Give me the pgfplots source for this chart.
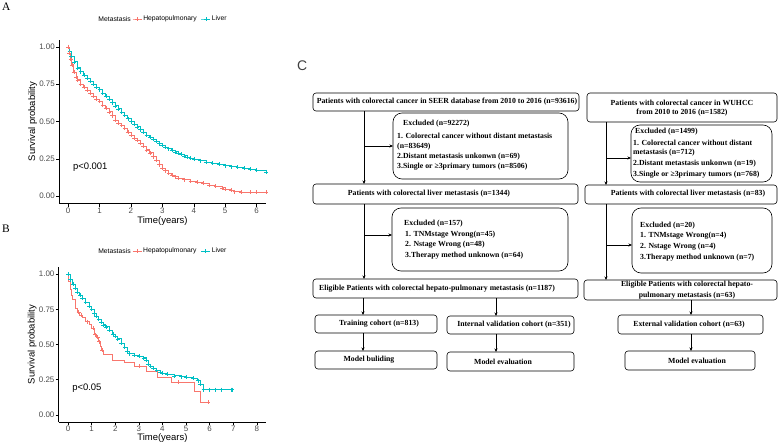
\documentclass[border=0pt]{standalone}
\usepackage{pgfplots}
\pgfplotsset{compat=1.18}
\usepackage{pgfplotstable}
\usepackage{fontspec}
\setmainfont{Liberation Serif}
\newfontfamily\arial{Liberation Sans}
\usetikzlibrary{arrows.meta}
\definecolor{hep}{HTML}{F8766D}
\definecolor{liv}{HTML}{00BFC4}

\pgfplotstableread{
t s
0 1.00
0.05 0.97
0.1 0.94
0.2 0.90
0.3 0.86
0.4 0.835
0.5 0.81
0.6 0.79
0.7 0.77
0.8 0.75
0.9 0.73
1.0 0.713
1.1 0.69
1.2 0.67
1.3 0.65
1.4 0.627
1.5 0.605
1.6 0.585
1.7 0.563
1.8 0.542
1.9 0.52
2.0 0.50
2.1 0.482
2.2 0.464
2.3 0.446
2.4 0.428
2.5 0.41
2.6 0.395
2.7 0.38
2.8 0.366
2.9 0.352
3.0 0.34
3.1 0.329
3.2 0.318
3.3 0.307
3.4 0.297
3.5 0.287
3.6 0.279
3.7 0.27
3.8 0.262
3.9 0.254
4.0 0.247
4.2 0.237
4.4 0.228
4.6 0.22
4.8 0.212
5.0 0.204
5.2 0.198
5.4 0.193
5.6 0.187
5.8 0.18
6.0 0.172
6.3 0.162
}\liverA

\pgfplotstableread{
t s
0 1.00
0.03 0.96
0.08 0.92
0.12 0.88
0.18 0.83
0.25 0.80
0.3 0.78
0.4 0.75
0.5 0.73
0.6 0.71
0.7 0.69
0.8 0.67
0.9 0.65
1.0 0.635
1.1 0.61
1.2 0.59
1.3 0.565
1.4 0.54
1.5 0.51
1.6 0.49
1.7 0.475
1.8 0.455
1.9 0.43
2.0 0.41
2.1 0.39
2.2 0.375
2.3 0.355
2.4 0.335
2.5 0.31
2.6 0.29
2.7 0.265
2.8 0.24
2.9 0.21
3.0 0.186
3.1 0.17
3.2 0.155
3.3 0.14
3.4 0.13
3.5 0.12
3.7 0.11
3.9 0.10
4.1 0.093
4.3 0.085
4.5 0.074
4.7 0.066
4.9 0.055
5.0 0.045
5.2 0.04
5.3 0.03
5.5 0.027
5.8 0.025
6.0 0.025
6.3 0.025
}\hepA

\pgfplotstableread{
t s
0 1.00
0.1 0.96
0.2 0.93
0.3 0.90
0.4 0.87
0.5 0.85
0.6 0.83
0.75 0.80
0.9 0.77
1.0 0.75
1.1 0.72
1.2 0.70
1.3 0.68
1.4 0.66
1.5 0.64
1.6 0.625
1.75 0.60
1.9 0.575
2.0 0.557
2.1 0.54
2.25 0.51
2.4 0.48
2.5 0.45
2.6 0.435
2.8 0.425
3.0 0.415
3.2 0.405
3.3 0.39
3.4 0.36
3.5 0.345
3.6 0.33
3.75 0.316
3.9 0.303
4.0 0.297
4.2 0.288
4.5 0.278
4.8 0.272
5.0 0.27
5.3 0.26
5.5 0.243
5.6 0.22
5.75 0.18
6.95 0.18
}\liverB

\pgfplotstableread{
t s
6.0 0.18
6.25 0.18
6.5 0.18
6.9 0.18
}\liverBcens

\pgfplotstableread{
t s
0 1.00
0.03 0.95
0.1 0.89
0.15 0.85
0.2 0.82
0.3 0.757
0.4 0.73
0.5 0.71
0.6 0.69
0.75 0.663
0.9 0.64
1.0 0.616
1.1 0.57
1.2 0.55
1.3 0.52
1.35 0.49
1.4 0.46
1.5 0.427
1.9 0.39
2.4 0.37
2.8 0.344
3.3 0.309
3.8 0.27
4.4 0.233
5.35 0.167
5.6 0.09
5.95 0.09
}\hepB

\pgfplotstableread{
t s
0.45 0.73
0.55 0.71
0.8 0.663
1.05 0.616
1.15 0.57
1.25 0.55
1.33 0.52
1.45 0.46
3.0 0.344
4.65 0.233
5.95 0.09
}\hepBcens

\pgfplotsset{kmaxis/.style={
  scale only axis, axis x line*=bottom, axis y line*=left, clip=false,
  ymin=-0.05, ymax=1.05, ytick={0,0.25,0.5,0.75,1},
  yticklabel style={/pgf/number format/fixed, /pgf/number format/fixed zerofill, /pgf/number format/precision=2},
  /pgf/number format/assume math mode=true,
  tick align=outside, major tick length=3bp, tick style={black, line width=0.5bp},
  axis line style={black, line width=0.6bp},
  ticklabel style={font=\arial\fontsize{8}{9}\selectfont, text=black!70, inner sep=1bp},
  label style={font=\arial\fontsize{9.5}{11}\selectfont},
  ylabel={Survival probability},
  ylabel style={inner sep=1bp},
  legend style={draw=none, fill=none, font=\arial\fontsize{6.8}{8}\selectfont, legend columns=-1,
    nodes={inner sep=1.2bp},
    /tikz/every even column/.append style={column sep=3bp}, inner sep=0pt},
  legend image code/.code={\draw[mark repeat=2,mark phase=2,#1] plot coordinates {(0bp,0bp) (4.5bp,0bp) (9bp,0bp)};},
  every axis plot/.append style={line width=0.8bp},
}}

\begin{document}
\begin{tikzpicture}
\path[use as bounding box] (0,0) rectangle (780bp,-444bp);
\node[anchor=base west, font=\fontsize{11.5}{12}\selectfont, inner sep=0pt] at (2bp,-10bp) {A};
\node[anchor=base west, font=\fontsize{11.5}{12}\selectfont, inner sep=0pt] at (2bp,-232bp) {B};
\node[anchor=base west, font=\arial\fontsize{14}{14}\selectfont, text=black!75, inner sep=0pt] at (297bp,-70bp) {C};

% ---------------- Panel A ----------------
\begin{axis}[kmaxis, at={(59bp,-203.5bp)}, anchor=south west, width=207bp, height=164bp,
  xmin=-0.29, xmax=6.3, xtick={0,...,6},
  legend style={at={(0.353,1.125)}, anchor=west}]
\addlegendimage{hep, mark=+, mark options={line width=0.5bp}}\addlegendentry{Hepatopulmonary}
\addlegendimage{liv, mark=+, mark options={line width=0.5bp}}\addlegendentry{Liver}
\addplot[liv, const plot, mark=+, mark size=2bp, mark options={line width=0.5bp}, forget plot] table {\liverA};
\addplot[hep, const plot, mark=+, mark size=2bp, mark options={line width=0.5bp}, forget plot] table {\hepA};
\node[anchor=west, font=\arial\fontsize{9.5}{11}\selectfont, inner sep=0pt] at (axis cs:0.15,0.195) {p<0.001};
\node[anchor=east, font=\arial\fontsize{6.8}{8}\selectfont, inner sep=0pt] at (axis description cs:0.348,1.125) {Metastasis};
\node[font=\arial\fontsize{9.5}{11}\selectfont, inner sep=0pt] at (axis description cs:0.5,-0.107) {Time(years)};
\end{axis}

% ---------------- Panel B ----------------
\begin{axis}[kmaxis, at={(58.6bp,-422bp)}, anchor=south west, width=207.7bp, height=155bp,
  xmin=-0.4, xmax=8.4, xtick={0,...,8},
  legend style={at={(0.353,1.103)}, anchor=west}]
\addlegendimage{hep, mark=+, mark options={line width=0.5bp}}\addlegendentry{Hepatopulmonary}
\addlegendimage{liv, mark=+, mark options={line width=0.5bp}}\addlegendentry{Liver}
\addplot[liv, const plot, mark=+, mark size=2bp, mark options={line width=0.5bp}, forget plot] table {\liverB};
\addplot[liv, only marks, mark=+, mark size=2bp, mark options={line width=0.5bp}, forget plot] table {\liverBcens};
\addplot[hep, const plot, no marks, forget plot] table {\hepB};
\addplot[hep, only marks, mark=+, mark size=2bp, mark options={line width=0.5bp}, forget plot] table {\hepBcens};
\node[anchor=west, font=\arial\fontsize{9.5}{11}\selectfont, inner sep=0pt] at (axis cs:0.17,0.19) {p<0.05};
\node[anchor=east, font=\arial\fontsize{6.8}{8}\selectfont, inner sep=0pt] at (axis description cs:0.348,1.103) {Metastasis};
\node[font=\arial\fontsize{9.5}{11}\selectfont, inner sep=0pt] at (axis description cs:0.5,-0.105) {Time(years)};
\end{axis}

% ---------------- Panel C (flowchart) ----------------
\begin{scope}[x=1bp, y=-1bp, font=\bfseries\fontsize{7.8}{9}\selectfont,
  every node/.style={inner sep=0pt},
  box/.style={draw, line width=0.6bp, rounded corners=3bp},
  ebox/.style={draw, line width=0.6bp, rounded corners=9bp},
  arr/.style={-{Stealth[length=3.5bp,width=3bp]}, line width=0.6bp}]
% left column
\draw[box] (313,93) rectangle (579,111);
\node at (447,102) {Patients with colorectal cancer in SEER database from 2010 to 2016 (n=93616)};
\draw[ebox] (393,113) rectangle (568,179);
\node[anchor=west] at (403,124) {Excluded (n=92272)};
\node[anchor=west] at (397,136) {1. Colorectal cancer without distant metastasis};
\node[anchor=west] at (397,147) {(n=83649)};
\node[anchor=west] at (397,157) {2.Distant metastasis unkonwn (n=69)};
\node[anchor=west] at (397,167) {3.Single or ≥3primary tumors (n=8506)};
\draw[arr] (364,111) -- (364,184);
\draw[arr] (364,146) -- (393,146);
\draw[box] (313,184) rectangle (578,204);
\node at (429,194) {Patients with colorectal liver metastasis (n=1344)};
\draw[ebox] (392,208) rectangle (568,271);
\node[anchor=west] at (404,224) {Excluded (n=157)};
\node[anchor=west] at (405,235) {1. TNMstage Wrong(n=45)};
\node[anchor=west] at (405,245) {2. Nstage Wrong (n=48)};
\node[anchor=west] at (405,256) {3.Therapy method unknown (n=64)};
\draw[arr] (364,204) -- (364,279);
\draw[arr] (364,235) -- (392,235);
\draw[box] (313,279) rectangle (578,298);
\node at (437,289) {Eligible Patients with colorectal hepato-pulmonary metastasis (n=1187)};
\draw[arr] (363,298) -- (363,315);
\draw[arr] (496,298) -- (496,316);
\draw[box] (315,315) rectangle (437,333);
\node at (379,324) {Training cohort (n=813)};
\draw[box] (447,316) rectangle (574,334);
\node at (514,325) {Internal validation cohort (n=351)};
\draw[arr] (363,333) -- (363,351);
\draw[arr] (496,334) -- (496,352);
\draw[box] (315,351) rectangle (437,369);
\node at (369,360) {Model buliding};
\draw[box] (447,352) rectangle (574,371);
\node at (503,362) {Model evaluation};
% right column
\draw[box] (587,93) rectangle (777,122);
\node at (682,103) {Patients with colorectal cancer in WUHCC};
\node at (682,113) {from 2010 to 2016 (n=1582)};
\draw[ebox] (631,125) rectangle (772,182);
\node[anchor=west] at (635,132) {Excluded (n=1499)};
\node[anchor=west] at (633,143) {1. Colorectal cancer without distant};
\node[anchor=west] at (633,153) {metastasis (n=712)};
\node[anchor=west] at (633,164) {2.Distant metastasis unkonwn (n=19)};
\node[anchor=west] at (633,175) {3.Single or ≥3primary tumors (n=768)};
\draw[arr] (606,122) -- (606,185);
\draw[arr] (606,158) -- (631,158);
\draw[box] (585,185) rectangle (777,204);
\node at (688,194) {Patients with colorectal liver metastasis (n=83)};
\draw[ebox] (632,208) rectangle (772,273);
\node[anchor=west] at (640,226) {Excluded (n=20)};
\node[anchor=west] at (640,236) {1. TNMstage Wrong(n=4)};
\node[anchor=west] at (640,247) {2. Nstage Wrong (n=4)};
\node[anchor=west] at (640,258) {3.Therapy method unknown (n=7)};
\draw[arr] (606,204) -- (606,280);
\draw[arr] (606,245) -- (632,245);
\draw[box] (584,280) rectangle (777,300);
\node at (687,285) {Eligible Patients with colorectal hepato-};
\node at (687,296) {pulmonary metastasis (n=63)};
\draw[arr] (691,300) -- (691,315);
\draw[box] (618,315) rectangle (763,334);
\node at (689,325) {External validation cohort (n=63)};
\draw[arr] (691,334) -- (691,351);
\draw[box] (625,351) rectangle (755,370);
\node at (697,361) {Model evaluation};
\end{scope}
\end{tikzpicture}
\end{document}
